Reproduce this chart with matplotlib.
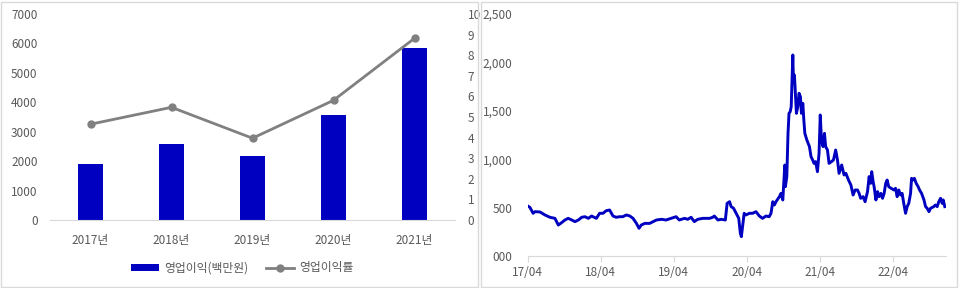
import numpy as np
import pandas as pd
import matplotlib
matplotlib.use('Agg')
import matplotlib.pyplot as plt
from matplotlib.patches import Rectangle
from matplotlib.ticker import FuncFormatter
import matplotlib.dates as mdates

plt.rcParams['font.family'] = ['Noto Sans CJK KR', 'DejaVu Sans']

# --- 왼쪽: 영업이익 / 영업이익률 ---
years = ['2017년', '2018년', '2019년', '2020년', '2021년']
op_profit = [1900, 2580, 2175, 3570, 5845]      # 백만원
op_margin = [4.65, 5.47, 3.97, 5.81, 8.82]      # %

# --- 오른쪽: 주가 추이 (그림에서 읽은 근사값) ---
price_dates = [
    '2017-04-01', '2017-04-12', '2017-04-28', '2017-05-07', '2017-06-01', '2017-06-26',
    '2017-07-21', '2017-08-15', '2017-09-01', '2017-09-17', '2017-10-04', '2017-10-20',
    '2017-11-07', '2017-11-23', '2017-12-10', '2017-12-27', '2018-01-12', '2018-01-29',
    '2018-02-14', '2018-03-10', '2018-03-26', '2018-04-12', '2018-04-28', '2018-05-15',
    '2018-06-01', '2018-06-17', '2018-07-04', '2018-07-20', '2018-08-07', '2018-08-24',
    '2018-09-09', '2018-09-26', '2018-10-09', '2018-10-20', '2018-11-07', '2018-12-01',
    '2018-12-18', '2019-01-04', '2019-01-29', '2019-02-21', '2019-03-18', '2019-04-12',
    '2019-04-28', '2019-05-24', '2019-06-09', '2019-06-26', '2019-07-12', '2019-07-29',
    '2019-08-24', '2019-09-26', '2019-10-12', '2019-10-20', '2019-11-07', '2019-11-23',
    '2019-12-14', '2019-12-23', '2020-01-04', '2020-01-12', '2020-01-24', '2020-02-06',
    '2020-02-19', '2020-02-27', '2020-03-03', '2020-03-09', '2020-03-17', '2020-03-26',
    '2020-04-12', '2020-04-28', '2020-05-15', '2020-06-01', '2020-06-17', '2020-07-04',
    '2020-07-20', '2020-07-29', '2020-08-07', '2020-08-15', '2020-08-23', '2020-09-09',
    '2020-09-17', '2020-09-26', '2020-10-01', '2020-10-06', '2020-10-09', '2020-10-16',
    '2020-10-22', '2020-10-27', '2020-11-02', '2020-11-07', '2020-11-10', '2020-11-15',
    '2020-11-18', '2020-11-23', '2020-11-28', '2020-12-03', '2020-12-10', '2020-12-16',
    '2020-12-23', '2020-12-28', '2021-01-04', '2021-01-09', '2021-01-14', '2021-01-24',
    '2021-02-06', '2021-02-14', '2021-02-22', '2021-03-01', '2021-03-09', '2021-03-18',
    '2021-03-26', '2021-04-01', '2021-04-07', '2021-04-15', '2021-04-22', '2021-04-28',
    '2021-05-07', '2021-05-15', '2021-05-27', '2021-06-06', '2021-06-17', '2021-06-26',
    '2021-07-04', '2021-07-17', '2021-07-29', '2021-08-07', '2021-08-20', '2021-09-01',
    '2021-09-12', '2021-09-22', '2021-10-04', '2021-10-12', '2021-10-20', '2021-11-01',
    '2021-11-11', '2021-11-23', '2021-12-01', '2021-12-09', '2021-12-14', '2021-12-21',
    '2021-12-26', '2022-01-04', '2022-01-12', '2022-01-20', '2022-01-29', '2022-02-06',
    '2022-02-14', '2022-02-22', '2022-03-01', '2022-03-09', '2022-03-21', '2022-04-04',
    '2022-04-12', '2022-04-20', '2022-04-28', '2022-05-07', '2022-05-15', '2022-05-23',
    '2022-06-01', '2022-06-09', '2022-06-17', '2022-06-26', '2022-07-01', '2022-07-07',
    '2022-07-15', '2022-07-24', '2022-08-03', '2022-08-10', '2022-08-20', '2022-09-01',
    '2022-09-09', '2022-09-17', '2022-09-26', '2022-10-04', '2022-10-20', '2022-10-28',
    '2022-11-06', '2022-11-14', '2022-11-23', '2022-12-01', '2022-12-06', '2022-12-14',
]
price_values = [
    517, 503, 441, 458, 455, 424,
    400, 389, 320, 344, 372, 389,
    372, 355, 372, 400, 406, 389,
    413, 389, 441, 441, 468, 475,
    413, 400, 406, 406, 424, 413,
    389, 337, 286, 320, 337, 337,
    355, 372, 379, 372, 389, 406,
    372, 389, 379, 400, 355, 379,
    389, 389, 400, 413, 372, 379,
    372, 544, 561, 510, 493, 441,
    389, 234, 200, 303, 441, 424,
    441, 441, 458, 413, 389, 413,
    406, 441, 561, 527, 561, 613,
    647, 579, 751, 940, 716, 820,
    1267, 1474, 1491, 1543, 1750, 2077,
    1818, 1870, 1681, 1474, 1543, 1681,
    1646, 1474, 1577, 1405, 1267, 1199,
    1130, 1026, 992, 957, 975, 871,
    1061, 1457, 1199, 1130, 1267, 1130,
    1095, 957, 975, 992, 1095, 992,
    854, 940, 837, 854, 785, 734,
    630, 682, 682, 647, 596, 613,
    561, 665, 820, 751, 871, 768,
    716, 579, 665, 613, 647, 596,
    647, 751, 785, 716, 699, 682,
    699, 613, 682, 630, 647, 544,
    441, 510, 544, 647, 802, 785,
    802, 751, 716, 682, 647, 579,
    510, 493, 458, 493, 510, 527,
    510, 561, 596, 544, 579, 510,
]

blue = '#0000C0'
gray_txt = '#595959'
axis_col = '#D9D9D9'

fig = plt.figure(figsize=(9.6, 2.88), dpi=100)

# 패널 테두리
fig.patches.append(Rectangle((1 / 960, 1 / 288), 477 / 960, 285 / 288, transform=fig.transFigure,
                             fill=False, edgecolor=axis_col, linewidth=1))
fig.patches.append(Rectangle((481 / 960, 1 / 288), 476 / 960, 285 / 288, transform=fig.transFigure,
                             fill=False, edgecolor=axis_col, linewidth=1))

# --- 왼쪽 차트 ---
ax1 = fig.add_axes([50 / 960, 68 / 288, 405 / 960, 206 / 288])
x = np.arange(len(years))
bars = ax1.bar(x, op_profit, width=0.31, color=blue, label='영업이익(백만원)', zorder=2)
ax1.set_xlim(-0.5, len(years) - 0.5)
ax1.set_ylim(0, 7000)
ax1.set_yticks(range(0, 7001, 1000))
ax1.set_xticks(x)
ax1.set_xticklabels(years)
for s in ['top', 'right', 'left']:
    ax1.spines[s].set_visible(False)
ax1.spines['bottom'].set_color(axis_col)
ax1.tick_params(axis='both', length=0, labelsize=8.5, colors=gray_txt)
ax1.tick_params(axis='y', pad=9)
ax1.tick_params(axis='x', pad=10)

ax2 = ax1.twinx()
line, = ax2.plot(x, op_margin, color='#808080', linewidth=2, marker='o', markersize=5,
                 label='영업이익률', zorder=3)
ax2.set_ylim(0, 10)
ax2.set_yticks(range(0, 11))
for s in ['top', 'right', 'left', 'bottom']:
    ax2.spines[s].set_visible(False)
ax2.tick_params(axis='y', length=0, labelsize=8.5, colors=gray_txt, pad=9)

fig.legend(handles=[bars, line], labels=['영업이익(백만원)', '영업이익률'],
           loc='center', bbox_to_anchor=(242 / 960, 20 / 288), ncol=2, frameon=False,
           fontsize=8.5, labelcolor=gray_txt, handlelength=2.4, handleheight=0.5,
           columnspacing=1.5, handletextpad=0.4)

# --- 오른쪽 차트 ---
ax3 = fig.add_axes([527.7 / 960, 32 / 288, 418.3 / 960, 242 / 288])
dates = pd.to_datetime(price_dates)
ax3.plot(dates, price_values, color=blue, linewidth=2.1)
ax3.set_ylim(0, 2500)
ax3.set_yticks(range(0, 2501, 500))
ax3.yaxis.set_major_formatter(FuncFormatter(lambda v, p: format(v, '03,.0f')))
ax3.set_xlim(pd.Timestamp('2017-04-01'), pd.Timestamp('2022-12-20'))
ax3.xaxis.set_major_locator(mdates.MonthLocator(bymonth=4, bymonthday=1))
ax3.xaxis.set_major_formatter(mdates.DateFormatter('%y/%m'))
for s in ['top', 'right', 'left']:
    ax3.spines[s].set_visible(False)
ax3.spines['bottom'].set_color(axis_col)
ax3.tick_params(axis='y', length=0, labelsize=8.5, colors=gray_txt, pad=11)
ax3.tick_params(axis='x', length=4, color=axis_col, labelsize=8.5, labelcolor=gray_txt, pad=3)

fig.savefig('out.png', dpi=100)
